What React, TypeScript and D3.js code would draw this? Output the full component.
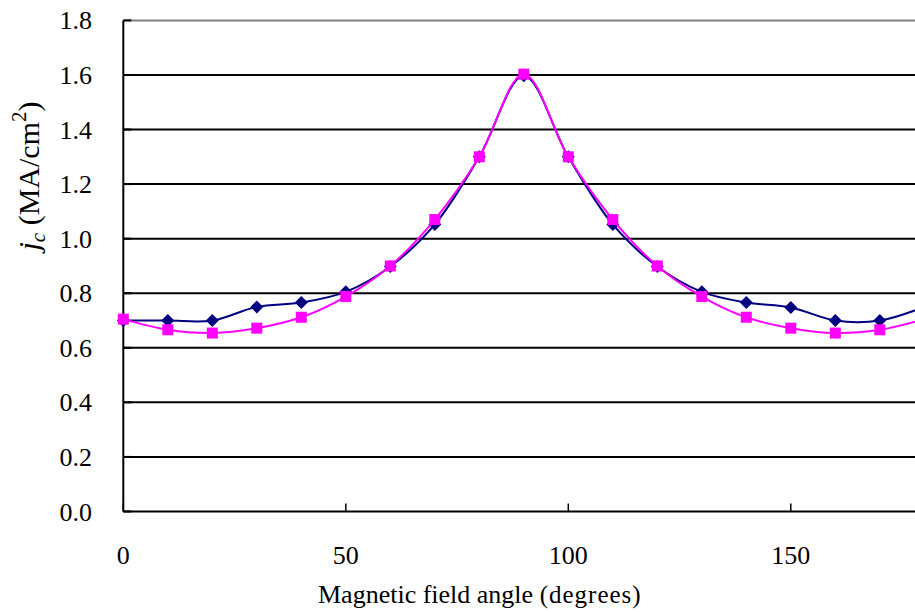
import React from "react";
import * as d3 from "d3";

const angles = [0, 10, 20, 30, 40, 50, 60, 70, 80, 90, 100, 110, 120, 130, 140, 150, 160, 170, 180];
const seriesBlue = [0.70, 0.70, 0.70, 0.75, 0.766, 0.805, 0.898, 1.052, 1.30, 1.597, 1.30, 1.052, 0.898, 0.805, 0.766, 0.748, 0.70, 0.70, 0.75];
const seriesPink = [0.705, 0.666, 0.654, 0.672, 0.712, 0.788, 0.90, 1.07, 1.30, 1.603, 1.30, 1.07, 0.90, 0.788, 0.712, 0.672, 0.654, 0.666, 0.705];
const yTicks = [0, 0.2, 0.4, 0.6, 0.8, 1.0, 1.2, 1.4, 1.6, 1.8];
const xTicks = [0, 50, 100, 150];

export default function App() {
  const W = 915, H = 612;
  const x = d3.scaleLinear().domain([0, 180]).range([123.3, 924.3]);
  const y = d3.scaleLinear().domain([0, 1.8]).range([511.5, 20.4]);
  const line = d3.line<number>()
    .x((_, i) => x(angles[i]))
    .y((d) => y(d))
    .curve(d3.curveCatmullRom.alpha(0.5));
  const diamond = (cx: number, cy: number, r: number) => `M${cx},${cy - r}L${cx + r},${cy}L${cx},${cy + r}L${cx - r},${cy}Z`;
  const F = "Liberation Serif";
  return (
    <svg width={W} height={H} style={{ position: "absolute", left: 0, top: 0, background: "#fff" }}>
      <line x1={x(0)} x2={W} y1={y(1.8)} y2={y(1.8)} stroke="#808080" strokeWidth={2} />
      {yTicks.filter((t) => t > 0 && t < 1.8).map((t) => (
        <line key={t} x1={x(0)} x2={W} y1={y(t)} y2={y(t)} stroke="#000" strokeWidth={2} />
      ))}
      {yTicks.map((t) => (
        <line key={"yt" + t} x1={x(0)} x2={x(0) + 8} y1={y(t)} y2={y(t)} stroke="#000" strokeWidth={2} />
      ))}
      <line x1={x(0)} x2={x(0)} y1={y(1.8)} y2={y(0)} stroke="#000" strokeWidth={2} />
      <line x1={x(0)} x2={W} y1={y(0)} y2={y(0)} stroke="#000" strokeWidth={2} />
      {xTicks.map((t) => (
        <line key={"xt" + t} x1={x(t)} x2={x(t)} y1={y(0)} y2={y(0) - 8} stroke="#000" strokeWidth={1.5} />
      ))}
      {yTicks.map((t) => (
        <text key={"yl" + t} x={92} y={y(t) + 9} textAnchor="end" fontSize={26} fontFamily={F}>{t.toFixed(1)}</text>
      ))}
      {xTicks.map((t) => (
        <text key={"xl" + t} x={x(t)} y={564} textAnchor="middle" fontSize={26} fontFamily={F}>{t}</text>
      ))}
      <text x={318} y={603} textAnchor="start" fontSize={26} fontFamily={F}>
        Magnetic field angle <tspan fontSize={25} letterSpacing={1}>(degrees)</tspan>
      </text>
      <text transform="translate(39,176) rotate(-90)" textAnchor="middle" fontSize={30} fontFamily={F}>
        <tspan fontStyle="italic">j</tspan>
        <tspan fontStyle="italic" fontSize={21} dy={6}>c</tspan>
        <tspan dy={-6}> (MA/cm</tspan>
        <tspan fontSize={21} dy={-13}>2</tspan>
        <tspan dy={13}>)</tspan>
      </text>
      <g>
        <path d={line(seriesBlue) || ""} fill="none" stroke="#000080" strokeWidth={2} />
        {seriesBlue.map((v, i) => (
          <path key={"b" + i} d={diamond(x(angles[i]), y(v), 6.5)} fill="#000080" />
        ))}
        <path d={line(seriesPink) || ""} fill="none" stroke="#FF00FF" strokeWidth={2} />
        {seriesPink.map((v, i) => (
          <rect key={"p" + i} x={x(angles[i]) - 5.5} y={y(v) - 5.5} width={11} height={11} fill="#FF00FF" />
        ))}
      </g>
    </svg>
  );
}
